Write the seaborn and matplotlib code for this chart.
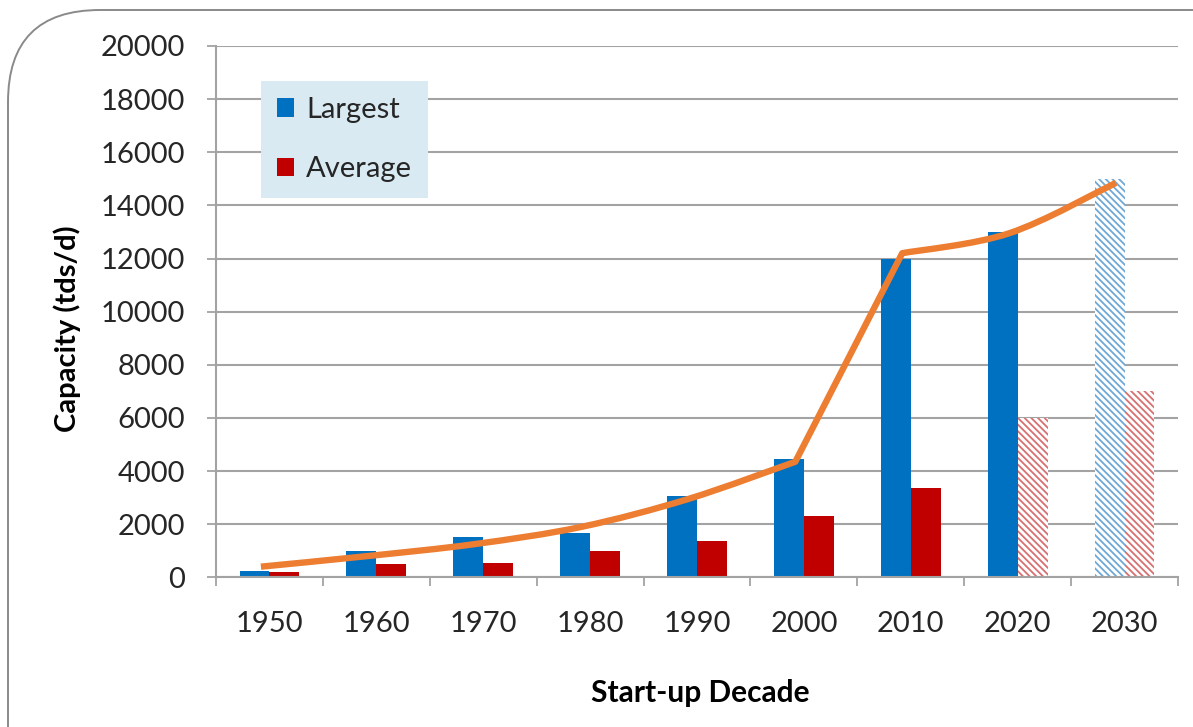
import numpy as np
import pandas as pd
import matplotlib
matplotlib.use("Agg")
import matplotlib.pyplot as plt
import seaborn as sns
from matplotlib.path import Path
from matplotlib.patches import PathPatch, FancyBboxPatch, Patch
from matplotlib.transforms import IdentityTransform
from matplotlib.ticker import FixedLocator

# ---- data -------------------------------------------------------------
decades = ["1950", "1960", "1970", "1980", "1990", "2000", "2010", "2020", "2030"]
largest = [250, 1000, 1500, 1650, 3050, 4450, 12000, 13000, 15000]
average = [200, 500, 550, 1000, 1350, 2300, 3350, 6000, 7000]
largest_projected = [False, False, False, False, False, False, False, False, True]
average_projected = [False, False, False, False, False, False, False, True, True]
trend = [400, 800, 1250, 1900, 2950, 4350, 12200, 12950, 14850]
series_names = ["Largest", "Average"]
y_ticks = list(range(0, 20001, 2000))

# ---- style ------------------------------------------------------------
BLUE = "#0070C0"
RED = "#C00000"
BLUE_HATCH = "#6FA8D6"
RED_HATCH = "#D86F70"
ORANGE = "#ED7D31"
GRID = "#A3A3A3"
TEXT = "#262626"

sns.set_style("white")
plt.rcParams["font.family"] = ["Lato", "DejaVu Sans"]
plt.rcParams["hatch.linewidth"] = 1.3

df = pd.DataFrame({
    "decade": decades * 2,
    "capacity": largest + average,
    "series": [series_names[0]] * len(decades) + [series_names[1]] * len(decades),
})

fig = plt.figure(figsize=(11.93, 7.27), dpi=100)
ax = fig.add_axes([216 / 1193, 1 - 577.3 / 727, 962 / 1193, 531.3 / 727])

sns.barplot(data=df, x="decade", y="capacity", hue="series",
            hue_order=series_names, order=decades,
            palette=[BLUE, RED], saturation=1, width=0.56, gap=0,
            errorbar=None, legend=False, ax=ax, linewidth=0)

# projected decades drawn as hatched outlines on white
for container, flags, hcol in ((ax.containers[0], largest_projected, BLUE_HATCH),
                               (ax.containers[1], average_projected, RED_HATCH)):
    for bar, proj in zip(container, flags):
        if proj:
            bar.set_facecolor("white")
            bar.set_edgecolor(hcol)
            bar.set_hatch("\\" * 5)
            bar.set_linewidth(0)

# ---- smooth trend line -------------------------------------------------
xpos = np.arange(len(decades)) - 0.08
pts = np.column_stack([xpos, trend]).astype(float)
straight = {5}  # 2000 -> 2010 drawn as a straight run
n = len(pts)
verts = [pts[0]]
codes = [Path.MOVETO]
for i in range(n - 1):
    if i in straight:
        verts.append(pts[i + 1])
        codes.append(Path.LINETO)
        continue
    p0 = pts[i - 1] if (i - 1 >= 0 and (i - 1) not in straight) else pts[i]
    p3 = pts[i + 2] if (i + 2 < n and (i + 1) not in straight) else pts[i + 1]
    c1 = pts[i] + (pts[i + 1] - p0) / 6.0
    c2 = pts[i + 1] - (p3 - pts[i]) / 6.0
    verts += [c1, c2, pts[i + 1]]
    codes += [Path.CURVE4] * 3
ax.add_patch(PathPatch(Path(verts, codes), facecolor="none", edgecolor=ORANGE,
                       lw=4.6, capstyle="butt", joinstyle="round", zorder=5))

# ---- axes -------------------------------------------------------------
ax.set_ylim(0, 20000)
ax.set_xlim(-0.5, len(decades) - 0.5)
ax.set_yticks(y_ticks)
ax.set_yticklabels([str(v) for v in y_ticks])
ax.xaxis.set_minor_locator(FixedLocator(np.arange(len(decades) + 1) - 0.5))
ax.set_axisbelow(True)
ax.yaxis.grid(True, color=GRID, lw=1.5)
ax.xaxis.grid(False)
for side in ("top", "right"):
    ax.spines[side].set_visible(False)
for side in ("left", "bottom"):
    ax.spines[side].set_color(GRID)
    ax.spines[side].set_linewidth(1.5)

ax.tick_params(axis="y", which="major", direction="out", length=6.5, width=1.3,
               color=GRID, pad=15.5, labelsize=21, labelcolor=TEXT, left=True)
ax.tick_params(axis="x", which="major", length=0, pad=24, labelsize=21,
               labelcolor=TEXT, bottom=True)
ax.tick_params(axis="x", which="minor", direction="out", length=6.5, width=1.3,
               color=GRID, bottom=True)

ax.set_xlabel("Start-up Decade", fontsize=21.5, fontweight="bold", color="black")
ax.set_ylabel("Capacity (tds/d)", fontsize=21, fontweight="bold", color="black")
ax.xaxis.label.set_va("center")
ax.xaxis.set_label_coords(0.503, -0.218)
ax.yaxis.label.set_ha("center")
ax.yaxis.label.set_va("center")
ax.yaxis.set_label_coords(-0.155, 0.467)

# ---- legend -----------------------------------------------------------
handles = [Patch(facecolor=BLUE, edgecolor="none"), Patch(facecolor=RED, edgecolor="none")]
leg = ax.legend(handles, series_names, loc="upper left",
                bbox_to_anchor=(0.0465, 0.935), borderaxespad=0,
                frameon=True, fancybox=False, framealpha=1,
                facecolor="#DAEAF2", edgecolor="none",
                fontsize=21, handlelength=0.6, handleheight=0.6,
                handletextpad=0.4, borderpad=0.55, labelspacing=1.15)
for t in leg.get_texts():
    t.set_color(TEXT)

# ---- rounded page frame ----------------------------------------------
frame = FancyBboxPatch((8, -300), 1500, 727 - 10 + 300,
                       boxstyle="round,pad=0,rounding_size=92",
                       transform=IdentityTransform(), facecolor="none",
                       edgecolor="#8A8A8A", lw=1.4, zorder=0)
fig.add_artist(frame)

fig.savefig("out.png", dpi=100)
